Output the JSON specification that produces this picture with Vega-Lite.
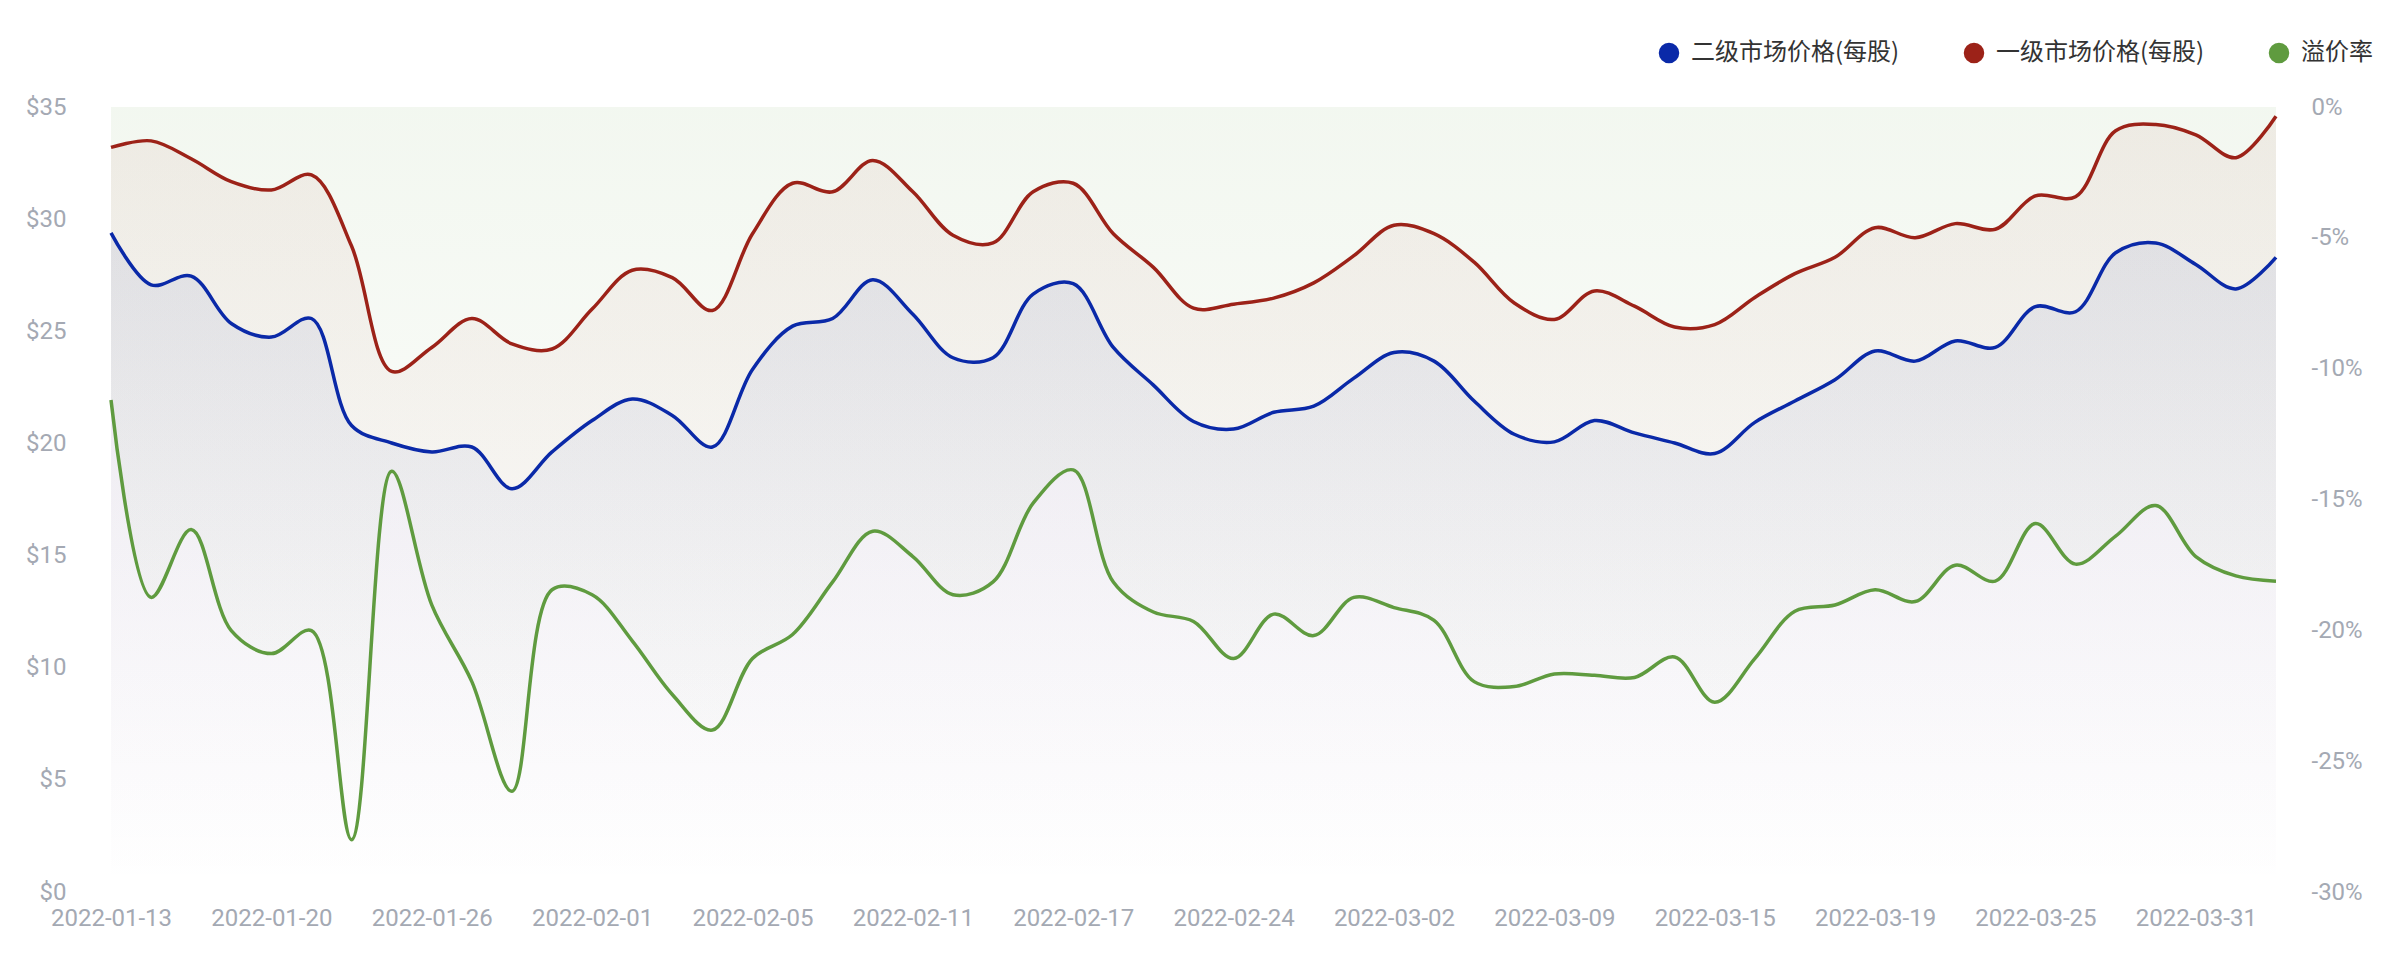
{
  "$schema": "https://vega.github.io/schema/vega-lite/v6.json",
  "width": 2165,
  "height": 785,
  "autosize": {"type": "none"},
  "padding": {"left": 111, "top": 107, "right": 116, "bottom": 82},
  "background": "#ffffff",
  "config": {
    "view": {"stroke": null},
    "font": "Roboto, 'Noto Sans CJK SC'",
    "axis": {
      "domain": false,
      "ticks": false,
      "tickSize": 0,
      "grid": false,
      "labelFont": "Roboto",
      "labelFontSize": 24,
      "labelColor": "#a4a9b3",
      "title": null
    }
  },
  "data": {
    "values": [
      {"d": "2022-01-13", "secondary": 29.39, "primary": 33.2, "premium": -11.2},
      {"d": "2022-01-14", "secondary": 27.07, "primary": 33.49, "premium": -18.74},
      {"d": "2022-01-18", "secondary": 27.46, "primary": 32.69, "premium": -16.15},
      {"d": "2022-01-19", "secondary": 25.35, "primary": 31.67, "premium": -20.01},
      {"d": "2022-01-20", "secondary": 24.74, "primary": 31.3, "premium": -20.89},
      {"d": "2022-01-21", "secondary": 25.57, "primary": 31.97, "premium": -20.01},
      {"d": "2022-01-24", "secondary": 20.8, "primary": 28.8, "premium": -28.0},
      {"d": "2022-01-25", "secondary": 20.02, "primary": 23.21, "premium": -13.92},
      {"d": "2022-01-26", "secondary": 19.62, "primary": 24.28, "premium": -19.03},
      {"d": "2022-01-27", "secondary": 19.84, "primary": 25.57, "premium": -21.96},
      {"d": "2022-01-28", "secondary": 17.98, "primary": 24.44, "premium": -26.15},
      {"d": "2022-01-31", "secondary": 19.62, "primary": 24.21, "premium": -18.45},
      {"d": "2022-02-01", "secondary": 21.02, "primary": 25.99, "premium": -18.64},
      {"d": "2022-02-02", "secondary": 21.98, "primary": 27.72, "premium": -20.4},
      {"d": "2022-02-03", "secondary": 21.25, "primary": 27.39, "premium": -22.45},
      {"d": "2022-02-04", "secondary": 19.84, "primary": 25.93, "premium": -23.81},
      {"d": "2022-02-05", "secondary": 23.3, "primary": 29.35, "premium": -21.08},
      {"d": "2022-02-07", "secondary": 25.23, "primary": 31.6, "premium": -20.16},
      {"d": "2022-02-08", "secondary": 25.57, "primary": 31.22, "premium": -18.15},
      {"d": "2022-02-10", "secondary": 27.3, "primary": 32.62, "premium": -16.21},
      {"d": "2022-02-11", "secondary": 25.76, "primary": 31.22, "premium": -17.18},
      {"d": "2022-02-14", "secondary": 23.82, "primary": 29.28, "premium": -18.64},
      {"d": "2022-02-15", "secondary": 23.82, "primary": 28.94, "premium": -18.15},
      {"d": "2022-02-16", "secondary": 26.66, "primary": 31.22, "premium": -15.14},
      {"d": "2022-02-17", "secondary": 27.12, "primary": 31.6, "premium": -13.87},
      {"d": "2022-02-18", "secondary": 24.28, "primary": 29.35, "premium": -18.15},
      {"d": "2022-02-22", "secondary": 22.6, "primary": 27.85, "premium": -19.3},
      {"d": "2022-02-23", "secondary": 20.98, "primary": 26.03, "premium": -19.66},
      {"d": "2022-02-24", "secondary": 20.64, "primary": 26.21, "premium": -21.08},
      {"d": "2022-02-25", "secondary": 21.39, "primary": 26.48, "premium": -19.38},
      {"d": "2022-02-28", "secondary": 21.66, "primary": 27.16, "premium": -20.2},
      {"d": "2022-03-01", "secondary": 22.91, "primary": 28.37, "premium": -18.74},
      {"d": "2022-03-02", "secondary": 24.05, "primary": 29.73, "premium": -19.13},
      {"d": "2022-03-03", "secondary": 23.67, "primary": 29.35, "premium": -19.62},
      {"d": "2022-03-04", "secondary": 21.89, "primary": 28.08, "premium": -21.96},
      {"d": "2022-03-07", "secondary": 20.41, "primary": 26.26, "premium": -22.15},
      {"d": "2022-03-09", "secondary": 20.07, "primary": 25.53, "premium": -21.67},
      {"d": "2022-03-10", "secondary": 21.02, "primary": 26.8, "premium": -21.72},
      {"d": "2022-03-11", "secondary": 20.47, "primary": 26.12, "premium": -21.8},
      {"d": "2022-03-14", "secondary": 20.02, "primary": 25.19, "premium": -21.02},
      {"d": "2022-03-15", "secondary": 19.55, "primary": 25.3, "premium": -22.75},
      {"d": "2022-03-16", "secondary": 20.94, "primary": 26.51, "premium": -21.08},
      {"d": "2022-03-17", "secondary": 21.89, "primary": 27.57, "premium": -19.27},
      {"d": "2022-03-18", "secondary": 22.84, "primary": 28.3, "premium": -19.03},
      {"d": "2022-03-19", "secondary": 24.12, "primary": 29.62, "premium": -18.45},
      {"d": "2022-03-21", "secondary": 23.67, "primary": 29.17, "premium": -18.9},
      {"d": "2022-03-22", "secondary": 24.57, "primary": 29.8, "premium": -17.51},
      {"d": "2022-03-24", "secondary": 24.28, "primary": 29.55, "premium": -18.12},
      {"d": "2022-03-25", "secondary": 26.1, "primary": 31.04, "premium": -15.92},
      {"d": "2022-03-28", "secondary": 25.87, "primary": 31.0, "premium": -17.47},
      {"d": "2022-03-29", "secondary": 28.5, "primary": 33.94, "premium": -16.4},
      {"d": "2022-03-30", "secondary": 28.94, "primary": 34.22, "premium": -15.23},
      {"d": "2022-03-31", "secondary": 27.98, "primary": 33.76, "premium": -17.18},
      {"d": "2022-04-01", "secondary": 26.89, "primary": 32.74, "premium": -17.92},
      {"d": "2022-04-04", "secondary": 28.3, "primary": 34.59, "premium": -18.12}
    ]
  },
  "encoding": {
    "x": {
      "field": "d",
      "type": "ordinal",
      "sort": null,
      "scale": {"type": "point", "padding": 0},
      "axis": {
        "values": ["2022-01-13", "2022-01-20", "2022-01-26", "2022-02-01", "2022-02-05", "2022-02-11", "2022-02-17", "2022-02-24", "2022-03-02", "2022-03-09", "2022-03-15", "2022-03-19", "2022-03-25", "2022-03-31"],
        "labelAngle": 0,
        "labelPadding": 14,
        "labelOverlap": false,
        "labelFlush": false
      }
    }
  },
  "layer": [
    {
      "mark": {
        "type": "area",
        "interpolate": "catmull-rom",
        "fill": {"gradient": "linear", "x1": 0, "y1": 0, "x2": 0, "y2": 1,
          "stops": [{"offset": 0, "color": "rgba(95,155,63,0.08)"}, {"offset": 1, "color": "rgba(95,155,63,0)"}]}
      },
      "encoding": {
        "y": {"field": "premium", "type": "quantitative", "scale": {"domain": [-30, 0], "nice": false}, "axis": null}
      }
    },
    {
      "mark": {
        "type": "area",
        "interpolate": "catmull-rom",
        "fill": {"gradient": "linear", "x1": 0, "y1": 0, "x2": 0, "y2": 1,
          "stops": [{"offset": 0, "color": "rgba(156,34,24,0.06)"}, {"offset": 1, "color": "rgba(156,34,24,0)"}]}
      },
      "encoding": {
        "y": {"field": "primary", "type": "quantitative", "scale": {"domain": [0, 35], "nice": false}, "axis": null}
      }
    },
    {
      "mark": {
        "type": "area",
        "interpolate": "catmull-rom",
        "fill": {"gradient": "linear", "x1": 0, "y1": 0, "x2": 0, "y2": 1,
          "stops": [{"offset": 0, "color": "rgba(10,41,168,0.07)"}, {"offset": 1, "color": "rgba(10,41,168,0)"}]}
      },
      "encoding": {
        "y": {"field": "secondary", "type": "quantitative", "scale": {"domain": [0, 35], "nice": false}, "axis": null}
      }
    },
    {
      "transform": [{"fold": ["secondary", "primary"], "as": ["series", "value"]}],
      "mark": {"type": "line", "interpolate": "catmull-rom", "strokeWidth": 3.5},
      "encoding": {
        "y": {
          "field": "value", "type": "quantitative",
          "scale": {"domain": [0, 35], "nice": false},
          "axis": {"orient": "left", "values": [0, 5, 10, 15, 20, 25, 30, 35], "labelExpr": "'$' + datum.value", "labelPadding": 45}
        },
        "color": {
          "field": "series", "type": "nominal",
          "scale": {"domain": ["secondary", "primary", "premium"], "range": ["#0a29a8", "#9c2218", "#5f9b3f"]},
          "legend": {
            "title": null, "orient": "none", "legendX": 1546, "legendY": -66, "direction": "horizontal",
            "symbolType": "circle", "symbolSize": 420, "labelFontSize": 24, "labelColor": "#333333",
            "labelFont": "Noto Sans CJK SC", "labelOffset": 10, "columnPadding": 62, "padding": 0, "labelLimit": 500,
            "labelExpr": "{'secondary': '二级市场价格(每股)', 'primary': '一级市场价格(每股)', 'premium': '溢价率'}[datum.label]",
            "encode": {"symbols": {"update": {"fill": {"scale": "color", "field": "value"}, "fillOpacity": {"value": 1}, "strokeWidth": {"value": 0}}}}
          }
        }
      }
    },
    {
      "transform": [{"fold": ["premium"], "as": ["series", "value"]}],
      "mark": {"type": "line", "interpolate": "catmull-rom", "strokeWidth": 3.5},
      "encoding": {
        "y": {
          "field": "value", "type": "quantitative",
          "scale": {"domain": [-30, 0], "nice": false},
          "axis": {"orient": "right", "values": [-30, -25, -20, -15, -10, -5, 0], "labelExpr": "datum.value + '%'", "labelPadding": 35}
        },
        "color": {
          "field": "series", "type": "nominal",
          "scale": {"domain": ["secondary", "primary", "premium"], "range": ["#0a29a8", "#9c2218", "#5f9b3f"]},
          "legend": {
            "title": null, "orient": "none", "legendX": 1546, "legendY": -66, "direction": "horizontal",
            "symbolType": "circle", "symbolSize": 420, "labelFontSize": 24, "labelColor": "#333333",
            "labelFont": "Noto Sans CJK SC", "labelOffset": 10, "columnPadding": 62, "padding": 0, "labelLimit": 500,
            "labelExpr": "{'secondary': '二级市场价格(每股)', 'primary': '一级市场价格(每股)', 'premium': '溢价率'}[datum.label]",
            "encode": {"symbols": {"update": {"fill": {"scale": "color", "field": "value"}, "fillOpacity": {"value": 1}, "strokeWidth": {"value": 0}}}}
          }
        }
      }
    }
  ],
  "resolve": {"scale": {"y": "independent"}, "axis": {"y": "independent"}}
}
